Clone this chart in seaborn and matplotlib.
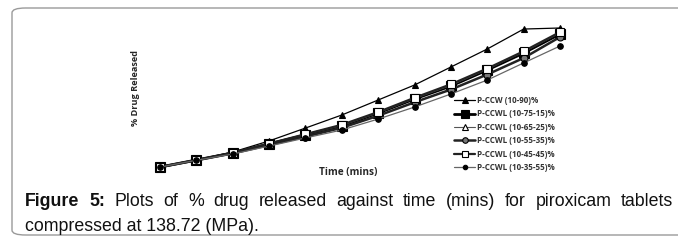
"""Dissolution profiles of piroxicam tablets (Figure 5)"""

import pandas as pd
import seaborn as sns
import matplotlib.pyplot as plt
from matplotlib.patches import FancyBboxPatch

# Time points (mins) and % drug released for each formulation
time = [0, 5, 10, 15, 20, 25, 30, 35, 40, 45, 50, 55]
p_ccw_10_90 = [5.3, 10.0, 15.3, 22.7, 31.3, 40.0, 50.0, 60.0, 72.0, 84.0, 97.3, 98.0]
p_ccwl_10_75_15 = [5.3, 10.0, 14.7, 20.7, 26.7, 32.7, 41.3, 50.7, 59.3, 70.0, 81.3, 94.0]
p_ccwl_10_65_25 = [5.3, 10.0, 14.8, 21.0, 27.0, 33.0, 41.5, 51.0, 59.8, 70.5, 82.0, 94.7]
p_ccwl_10_55_35 = [5.3, 9.8, 14.4, 20.0, 25.6, 31.5, 39.5, 48.5, 57.0, 67.0, 78.0, 92.0]
p_ccwl_10_45_45 = [5.3, 10.0, 14.9, 21.0, 27.2, 33.5, 42.0, 51.5, 60.5, 71.0, 82.5, 95.3]
p_ccwl_10_35_55 = [5.3, 9.8, 14.0, 19.3, 24.7, 30.0, 37.3, 45.3, 54.0, 63.3, 74.7, 86.0]

labels = ["P-CCW (10-90)%", "P-CCWL (10-75-15)%", "P-CCWL (10-65-25)%",
          "P-CCWL (10-55-35)%", "P-CCWL (10-45-45)%", "P-CCWL (10-35-55)%"]
series = [p_ccw_10_90, p_ccwl_10_75_15, p_ccwl_10_65_25,
          p_ccwl_10_55_35, p_ccwl_10_45_45, p_ccwl_10_35_55]

# look of each line: (marker, size, face, line colour, line width)
styles = [
    ("^", 5, "black", "black", 0.9),
    ("s", 6.5, "black", "black", 2.0),
    ("^", 5, "white", "#555555", 0.8),
    ("o", 5, "#777777", "#222222", 1.8),
    ("s", 6, "white", "#222222", 1.6),
    ("o", 4, "black", "#666666", 0.9),
]

sns.set_style("white")
plt.rcParams["font.family"] = ["Liberation Sans", "DejaVu Sans"]

fig = plt.figure(figsize=(6.78, 2.4), dpi=100)
ax = fig.add_axes([160 / 678, 1 - 175 / 240, 400 / 678, 150 / 240])

for lab, vals, (mk, ms, fc, lc, lw) in zip(labels, series, styles):
    df = pd.DataFrame({"Time": time, "Release": vals})
    sns.lineplot(data=df, x="Time", y="Release", ax=ax, label=lab,
                 marker=mk, markersize=ms, markerfacecolor=fc,
                 markeredgecolor="black", markeredgewidth=0.8,
                 color=lc, linewidth=lw, clip_on=False)

ax.set_xlim(0, 55)
ax.set_ylim(0, 100)
ax.set_xticks([])
ax.set_yticks([])
ax.set_xlabel("")
ax.set_ylabel("")
sns.despine(ax=ax, left=True, bottom=True)
ax.patch.set_alpha(0)

leg = ax.legend(loc="upper left", bbox_to_anchor=(290 / 400, 83 / 150),
                frameon=False, fontsize=5.8, handlelength=2.6,
                handletextpad=0.2, labelspacing=0.55, borderpad=0,
                markerscale=0.8)
for t in leg.get_texts():
    t.set_fontweight("bold")
    t.set_color("#333333")
    t.set_family(["Open Sans", "DejaVu Sans"])

# axis titles sit inside the plot area
fig.text(135 / 678, 1 - 88 / 240, "% Drug Released", rotation=90,
         ha="center", va="center", fontsize=6.6, fontweight="bold",
         family=["Open Sans", "DejaVu Sans"])
fig.text(348 / 678, 1 - 173 / 240, "Time (mins)", ha="center",
         va="center", fontsize=7.2, fontweight="bold",
         family=["Open Sans", "DejaVu Sans"])

# rounded frame around figure + caption
frame = FancyBboxPatch((12 / 678, 5 / 240), 700 / 678, 227 / 240,
                       boxstyle="round,pad=0,rounding_size=0.02",
                       transform=fig.transFigure, fill=False,
                       edgecolor="#9a9a9a", linewidth=1.0)
fig.patches.append(frame)

# justified first caption line
words = [("Figure", "bold"), ("5:", "bold"), ("Plots", "normal"),
         ("of", "normal"), ("%", "normal"), ("drug", "normal"),
         ("released", "normal"), ("against", "normal"), ("time", "normal"),
         ("(mins)", "normal"), ("for", "normal"), ("piroxicam", "normal"),
         ("tablets", "normal")]
cap_size = 12.8
renderer = fig.canvas.get_renderer()
arts = []
for w, fw in words:
    arts.append(fig.text(0, 1 - 206 / 240, w, fontsize=cap_size,
                         fontweight=fw, va="baseline", ha="left",
                         color="#111111"))
widths = [a.get_window_extent(renderer).width for a in arts]
x0, x1 = 25, 673
gap = (x1 - x0 - sum(widths)) / (len(arts) - 1)
x = x0
for a, wdt in zip(arts, widths):
    a.set_x(x / 678)
    x += wdt + gap

fig.text(25 / 678, 1 - 231 / 240, "compressed at 138.72 (MPa).",
         fontsize=cap_size, va="baseline", ha="left", color="#111111")

fig.savefig("out.png", dpi=100)
